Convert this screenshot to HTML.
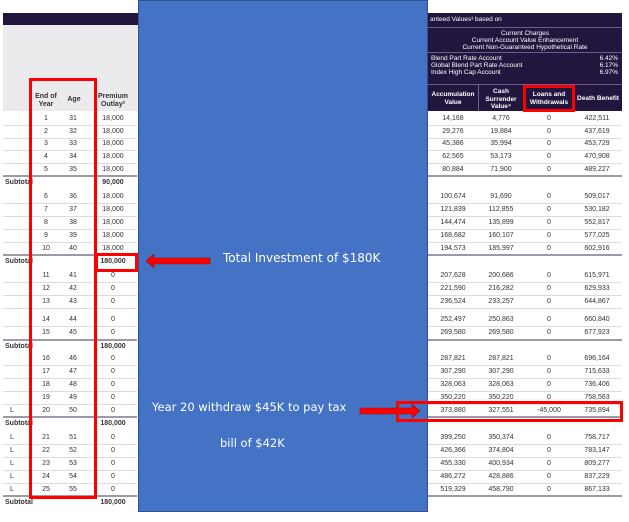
<!DOCTYPE html>
<html><head><style>
body{margin:0;width:629px;height:522px;background:#fff;position:relative;overflow:hidden;font-family:"Liberation Sans",sans-serif;}
div{position:absolute;box-sizing:border-box}
.t{font-size:7px;color:#333;white-space:nowrap}
.c{text-align:center}
.r{text-align:right}
.b{font-weight:bold}
.ln{height:1px;background:#dcdce0}
.sl{height:2px;background:#9a9aa8}
.w{color:#fff;font-size:6.5px;white-space:nowrap}
.bt{color:#fff;font-size:12px;font-family:'DejaVu Sans',sans-serif;white-space:nowrap}
</style></head><body>
<div style="left:3px;top:13px;width:135px;height:12px;background:#22163f"></div>
<div style="left:3px;top:25px;width:135px;height:86px;background:#ebebee"></div>
<div class="t b c" style="left:30px;top:93px;width:32px;line-height:8px">End of<br>Year</div>
<div class="t b c" style="left:60px;top:96px;width:28px">Age</div>
<div class="t b c" style="left:94px;top:93px;width:38px;line-height:8px">Premium<br>Outlay²</div>
<div style="left:428px;top:13px;width:194px;height:98px;background:#22163f"></div>
<div class="w" style="left:430px;top:16px">anteed Values³ based on</div>
<div style="left:428px;top:27px;width:194px;height:1px;background:#6a6090"></div>
<div class="w c" style="left:428px;top:30px;width:194px;line-height:7px">Current Charges<br>Current Account Value Enhancement<br>Current Non-Guaranteed Hypothetical Rate</div>
<div style="left:428px;top:52px;width:194px;height:1px;background:#6a6090"></div>
<div class="w" style="left:431px;top:55px;line-height:7px">Blend Part Rate Account<br>Global Blend Part Rate Account<br>Index High Cap Account</div>
<div class="w r" style="left:570px;top:55px;width:48px;line-height:7px">6.42%<br>6.17%<br>6.97%</div>
<div style="left:428px;top:84px;width:194px;height:1px;background:#6a6090"></div>
<div class="w b c" style="left:428px;top:91px;width:50px;line-height:8px">Accumulation<br>Value</div>
<div style="left:478px;top:85px;width:1px;height:26px;background:#6a6090"></div>
<div class="w b c" style="left:478px;top:88px;width:46px;line-height:7.5px">Cash<br>Surrender<br>Value⁴</div>
<div style="left:524px;top:85px;width:1px;height:26px;background:#6a6090"></div>
<div class="w b c" style="left:524px;top:91px;width:50px;line-height:8px">Loans and<br>Withdrawals</div>
<div style="left:574px;top:85px;width:1px;height:26px;background:#6a6090"></div>
<div class="w b c" style="left:574px;top:95px;width:48px">Death Benefit</div>

<div id="rows"></div>
<script>
var rows=[
["",1,31,"18,000","14,168","4,776","0","422,511"],
["",2,32,"18,000","29,276","19,884","0","437,619"],
["",3,33,"18,000","45,386","35,994","0","453,729"],
["",4,34,"18,000","62,565","53,173","0","470,908"],
["",5,35,"18,000","80,884","71,900","0","489,227"],
"90,000",
["",6,36,"18,000","100,674","91,690","0","509,017"],
["",7,37,"18,000","121,839","112,855","0","530,182"],
["",8,38,"18,000","144,474","135,899","0","552,817"],
["",9,39,"18,000","168,682","160,107","0","577,025"],
["",10,40,"18,000","194,573","185,997","0","602,916"],
"180,000",
["",11,41,"0","207,628","200,686","0","615,971"],
["",12,42,"0","221,590","216,282","0","629,933"],
["",13,43,"0","236,524","233,257","0","644,867"],
["",14,44,"0","252,497","250,863","0","660,840"],
["",15,45,"0","269,580","269,580","0","677,923"],
"180,000",
["",16,46,"0","287,821","287,821","0","696,164"],
["",17,47,"0","307,290","307,290","0","715,633"],
["",18,48,"0","328,063","328,063","0","736,406"],
["",19,49,"0","350,220","350,220","0","758,563"],
["L",20,50,"0","373,880","327,551","-45,000","735,894"],
"180,000",
["L",21,51,"0","399,250","350,374","0","758,717"],
["L",22,52,"0","426,366","374,804","0","783,147"],
["L",23,53,"0","455,330","400,934","0","809,277"],
["L",24,54,"0","486,272","428,886","0","837,229"],
["L",25,55,"0","519,329","458,790","0","867,133"],
"180,000"];
var tops=[119,132,144,157,170,183,197,210,223,236,249,262,276,289,302,320,333,347,359,372,385,398,411,424,438,451,464,477,490,503];
var h="";
rows.forEach(function(r,i){var y=tops[i]-4;
 if(typeof r=="string"){
  h+='<div class="sl" style="left:3px;top:'+(y-4)+'px;width:134px"></div><div class="sl" style="left:428px;top:'+(y-4)+'px;width:194px"></div>';
  h+='<div class="t b" style="left:5px;top:'+y+'px">Subtotal</div><div class="t b c" style="left:94px;top:'+y+'px;width:38px">'+r+'</div>';
 } else {
  h+='<div class="t" style="left:10px;top:'+y+'px">'+r[0]+'</div>';
  h+='<div class="t c" style="left:36px;top:'+y+'px;width:20px">'+r[1]+'</div>';
  h+='<div class="t c" style="left:63px;top:'+y+'px;width:20px">'+r[2]+'</div>';
  h+='<div class="t c" style="left:94px;top:'+y+'px;width:38px">'+r[3]+'</div>';
  h+='<div class="t c" style="left:428px;top:'+y+'px;width:50px">'+r[4]+'</div>';
  h+='<div class="t c" style="left:478px;top:'+y+'px;width:46px">'+r[5]+'</div>';
  h+='<div class="t c" style="left:524px;top:'+y+'px;width:50px">'+r[6]+'</div>';
  h+='<div class="t c" style="left:578px;top:'+y+'px;width:38px">'+r[7]+'</div>';
  h+='<div class="ln" style="left:3px;top:'+(y+10)+'px;width:134px"></div><div class="ln" style="left:428px;top:'+(y+10)+'px;width:194px"></div>';
 }});
document.getElementById("rows").innerHTML=h;
</script>

<div style="left:138px;top:0;width:290px;height:512px;background:#4472c4;border:1px solid #2f528f"></div>
<div class="bt" style="left:223px;top:251px">Total Investment of $180K</div>
<div class="bt" style="left:152px;top:400px;font-size:11.5px">Year 20 withdraw $45K to pay tax</div>
<div class="bt" style="left:220px;top:436px;font-size:11.5px">bill of $42K</div>

<div style="left:29px;top:78px;width:68px;height:421px;border:3px solid #f00"></div>
<div style="left:95px;top:253px;width:43px;height:19px;border:3px solid #f00"></div>
<div style="left:523px;top:85px;width:52px;height:27px;border:3px solid #f00"></div>
<div style="left:396px;top:401px;width:227px;height:21px;border:3px solid #f00"></div>
<svg style="position:absolute;left:0;top:0" width="629" height="522">
<polygon points="146,261 154,254 154,258 210,258 210,264 154,264 154,268" fill="#f00" stroke="#7a1a1a" stroke-width="0.6"/>
<polygon points="360,408 412,408 412,404 420,411 412,418 412,414 360,414" fill="#f00" stroke="#7a1a1a" stroke-width="0.6"/>
</svg>
</body></html>
